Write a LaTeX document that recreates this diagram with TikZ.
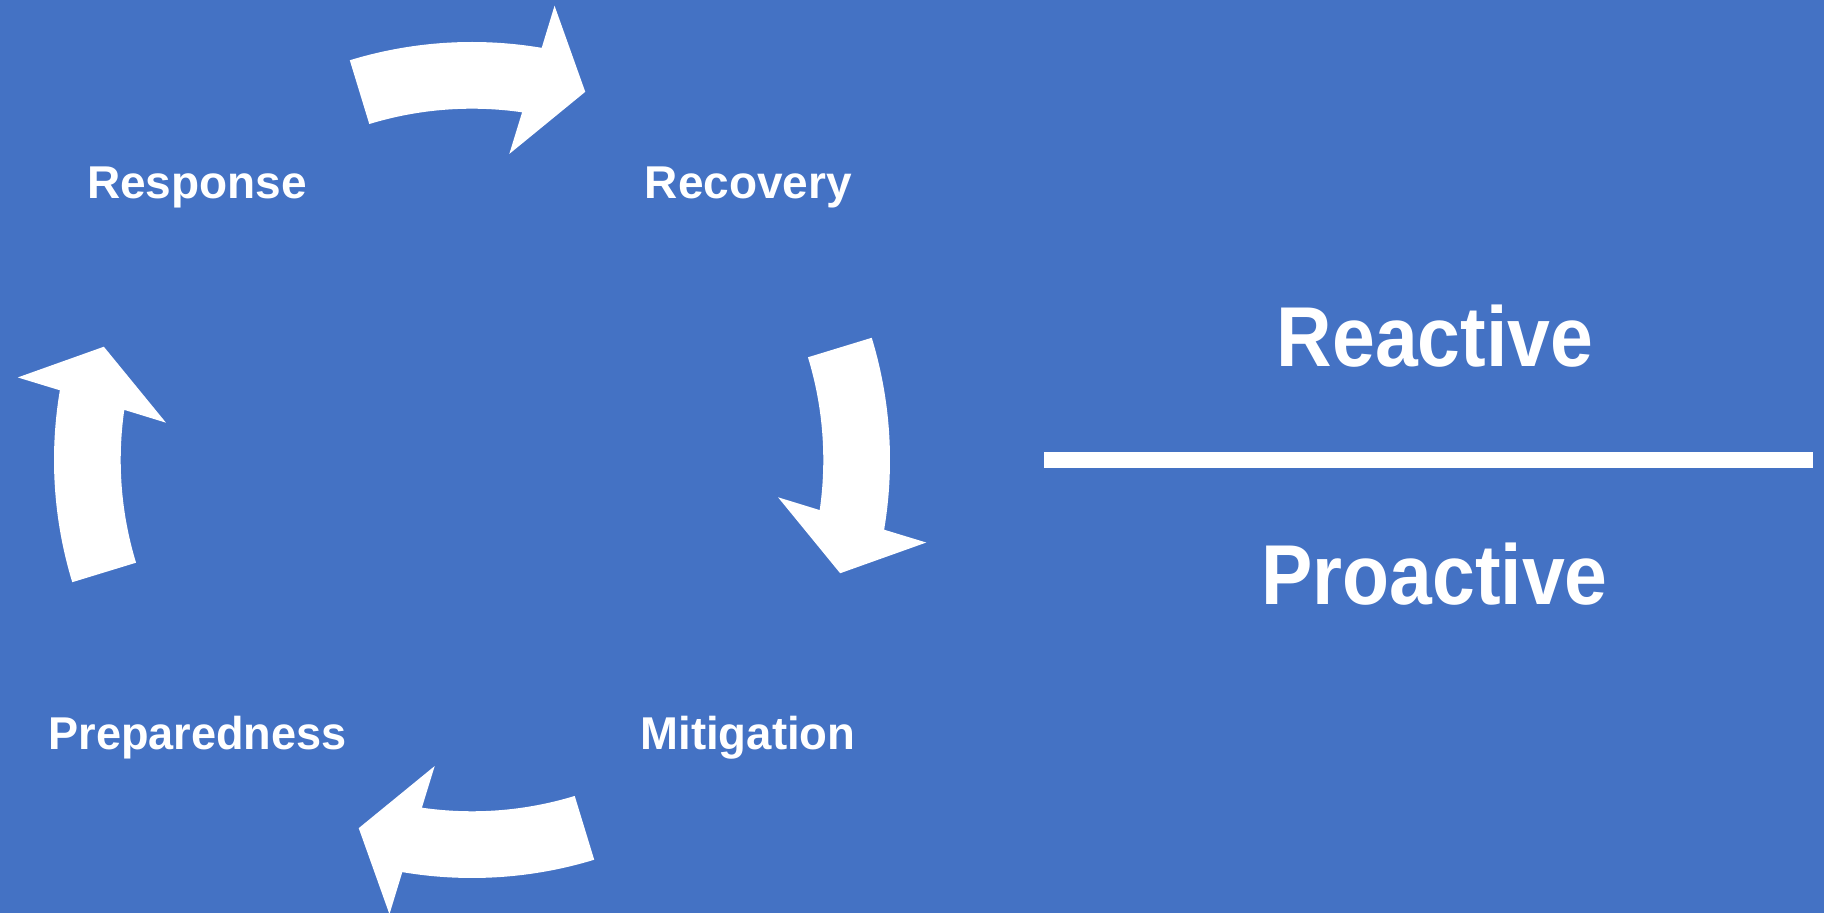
\documentclass[tikz,border=0pt]{standalone}
\usepackage{fontspec}
\setmainfont{Liberation Sans}
\definecolor{bgblue}{HTML}{4472C4}
\tikzset{
  cyclelabel/.style={text=white, anchor=base, inner sep=0pt, font=\bfseries\fontsize{23pt}{27pt}\selectfont},
  biglabel/.style={text=white, anchor=base, inner sep=0pt, font=\bfseries\fontsize{42.5pt}{50pt}\selectfont},
  cyclearrow/.style={fill=white}
}
\begin{document}
\begin{tikzpicture}[x=0.5pt,y=0.5pt]
\useasboundingbox (0,0) rectangle (1824,913);
\fill[bgblue] (0,0) rectangle (1824,913);
\coordinate (C) at (472,453);
\begin{scope}[shift={(C)}]
\foreach \a in {0,270,180,90} {
  \fill[cyclearrow] (107+\a:418) arc[start angle=107+\a, end angle=80.4+\a, radius=209pt]
    -- (79.7+\a:461.7) -- (72.9+\a:385.2) -- (83.05+\a:308.3) -- (81.8+\a:351.3)
    arc[start angle=81.8+\a, end angle=107+\a, radius=175.65pt] -- cycle;
}
\end{scope}
\node[cyclelabel] (response) at (197,714.7) {Response};
\node[cyclelabel] (recovery) at (748.5,714.7) {Recovery};
\node[cyclelabel] (preparedness) at (197.5,163) {\scalebox{0.98}[1]{Preparedness}};
\node[cyclelabel] (mitigation) at (748,163.5) {\scalebox{0.99}[1]{Mitigation}};
\node[biglabel] (reactive) at (1435,546.3) {\scalebox{0.905}[1]{Reactive}};
\node[biglabel] (proactive) at (1434.5,308) {\scalebox{0.905}[1]{Proactive}};
\fill[white] (1044,445.3) rectangle (1813,460.7);
\end{tikzpicture}
\end{document}
